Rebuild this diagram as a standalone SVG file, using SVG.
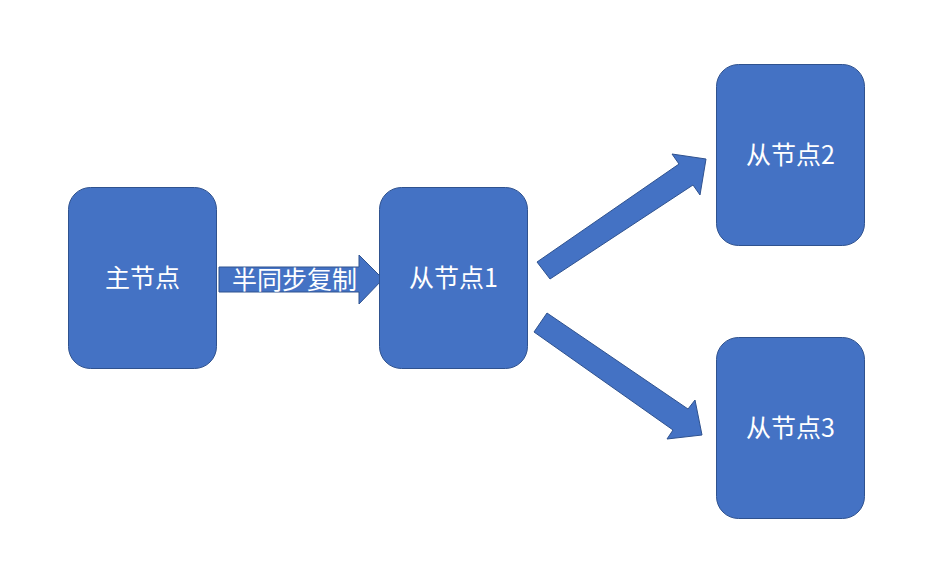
<svg xmlns="http://www.w3.org/2000/svg" width="931" height="565" viewBox="0 0 931 565">
<style>
.node{fill:#4472C4;stroke:#2F528F;stroke-width:1}
.arrow{fill:#4472C4;stroke:#2F528F;stroke-width:1}
.lbl{fill:#FFFFFF;font-family:"Noto Sans CJK SC","Noto Sans",sans-serif;font-size:25px;text-anchor:middle;dominant-baseline:central}
</style>
<rect width="931" height="565" fill="#FFFFFF"/>
<g id="connectors">
<polygon class="arrow" points="219,267 359,267 359,255 383,279 359,304 359,292 219,292"/>
<polygon class="arrow" points="537,262 679,164 672,154 706,159 700,195 693,185 550,279"/>
<polygon class="arrow" points="547,313 688,409 695,400 702,435 667,439 673,430 534,332"/>
<text class="lbl" x="294.5" y="278">半同步复制</text>
</g>
<g id="master">
<rect class="node" x="68.5" y="187.5" width="148" height="181" rx="22"/>
<text class="lbl" x="142.5" y="276">主节点</text>
</g>
<g id="slave1">
<rect class="node" x="379.5" y="187.5" width="148" height="181" rx="22"/>
<text class="lbl" x="453.5" y="276">从节点1</text>
</g>
<g id="slave2">
<rect class="node" x="716.5" y="64.5" width="148" height="181" rx="22"/>
<text class="lbl" x="790.5" y="153">从节点2</text>
</g>
<g id="slave3">
<rect class="node" x="716.5" y="337.5" width="148" height="181" rx="22"/>
<text class="lbl" x="790.5" y="426">从节点3</text>
</g>
</svg>
